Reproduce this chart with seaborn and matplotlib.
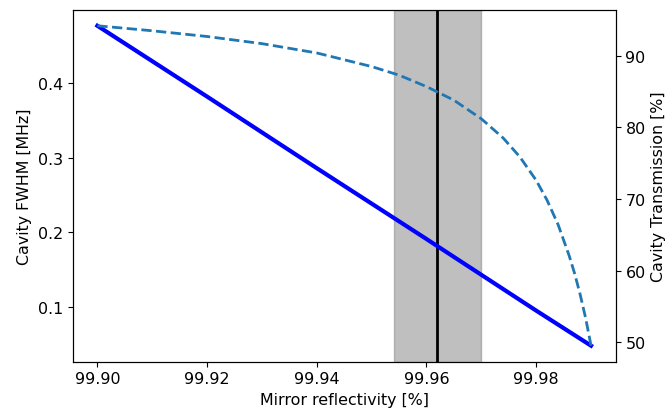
import matplotlib
matplotlib.use("Agg")
import matplotlib.pyplot as plt
import seaborn as sns
import pandas as pd

# Data
refl_fwhm = [99.90, 99.92, 99.94, 99.96, 99.98, 99.99]
fwhm_mhz = [0.477, 0.382, 0.286, 0.191, 0.095, 0.048]

refl_trans = [99.900, 99.910, 99.920, 99.930, 99.940, 99.950, 99.955, 99.960,
              99.965, 99.970, 99.974, 99.977, 99.980, 99.982, 99.984, 99.986,
              99.987, 99.988, 99.989, 99.990]
trans_pct = [94.2, 93.5, 92.7, 91.7, 90.4, 88.5, 87.3, 85.7,
             83.8, 81.2, 78.5, 75.9, 72.6, 69.8, 66.4, 62.1,
             59.6, 56.7, 53.4, 49.5]

band_low, band_high = 99.954, 99.970
design_refl = 99.962

xtick_vals = [99.90, 99.92, 99.94, 99.96, 99.98]
xtick_labels = ["99.90", "99.92", "99.94", "99.96", "99.98"]

df1 = pd.DataFrame({"R": refl_fwhm, "FWHM": fwhm_mhz})
df2 = pd.DataFrame({"R": refl_trans, "T": trans_pct})

plt.rcParams["font.size"] = 11.4

fig = plt.figure(figsize=(6.7, 4.14), dpi=100)
ax = fig.add_axes([0.1085, 0.124, 0.8105, 0.850])

ax.axvspan(band_low, band_high, color="grey", alpha=0.5)
ax.axvline(design_refl, color="k", lw=2)
sns.lineplot(data=df1, x="R", y="FWHM", ax=ax, color="blue", lw=3, sort=False)

ax2 = ax.twinx()
sns.lineplot(data=df2, x="R", y="T", ax=ax2, color="#1f77b4", lw=2,
             linestyle="--", sort=False)

ax.set_xlabel("Mirror reflectivity [%]")
ax.set_ylabel("Cavity FWHM [MHz]")
ax2.set_ylabel("Cavity Transmission [%]")
ax.set_xticks(xtick_vals)
ax.set_xticklabels(xtick_labels)
ax.set_yticks([0.1, 0.2, 0.3, 0.4])
ax2.set_yticks([50, 60, 70, 80, 90])

fig.savefig("out.png", dpi=100)
